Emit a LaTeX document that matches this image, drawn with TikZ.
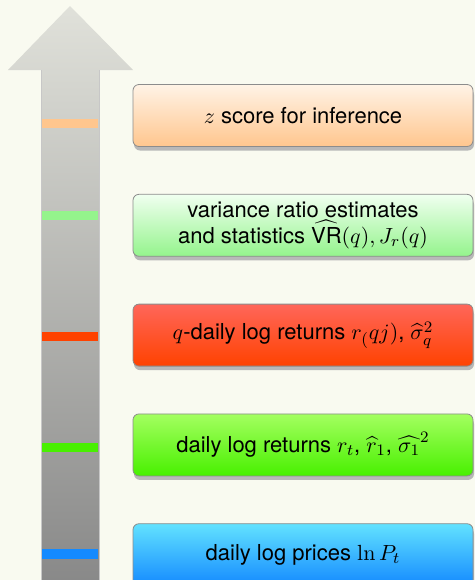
\documentclass[tikz,border=0pt]{standalone}
\usepackage{amsmath}
\usepackage[no-math]{fontspec}
\setmainfont{TeX Gyre Heros}
\usepackage{tikz}
\usetikzlibrary{positioning,shadows}
\definecolor{paper}{RGB}{249,250,240}
\definecolor{shafttop}{RGB}{224,225,218}
\definecolor{shaftbot}{RGB}{134,134,134}
\definecolor{zscoretop}{RGB}{255,243,230}
\definecolor{zscorebot}{RGB}{255,198,142}
\definecolor{ratiotop}{RGB}{240,255,240}
\definecolor{ratiobot}{RGB}{148,244,140}
\definecolor{qrettop}{RGB}{255,102,90}
\definecolor{qretbot}{RGB}{255,66,0}
\definecolor{rettop}{RGB}{164,255,96}
\definecolor{retbot}{RGB}{72,240,0}
\definecolor{pricetop}{RGB}{98,226,255}
\definecolor{pricebot}{RGB}{20,138,255}
\tikzset{
    stage/.style={
        draw=black!45,
        rounded corners=3pt,
        align=center,
        minimum height=31pt,
        minimum width=170pt,
        font=\fontsize{11pt}{13pt}\selectfont,
        drop shadow={opacity=1, fill=black!28, shadow xshift=0.5pt, shadow yshift=-2pt}
    },
    mark stripe/.style={fill=#1, draw=none},
    shaftedge/.style={draw=black!22, line width=0.4pt}
}
\begin{document}
\begin{tikzpicture}[node distance=23.5pt]
    \useasboundingbox[fill=paper] (0,0) rectangle (237.5pt,-290pt);
    % the big arrow
    \shade[top color=shafttop, bottom color=shaftbot]
        (20.5pt,-300pt) -- (20.5pt,-35pt) -- (4pt,-35pt) -- (35pt,-3pt)
        -- (66.5pt,-35pt) -- (49.5pt,-35pt) -- (49.5pt,-300pt) -- cycle;
    \draw[shaftedge] (20.5pt,-35pt) -- (20.5pt,-300pt);
    \draw[shaftedge] (49.5pt,-35pt) -- (49.5pt,-300pt);
    % marks on the arrow
    \fill[mark stripe=zscorebot] (21pt,-59.5pt) rectangle (49pt,-64pt);
    \fill[mark stripe=ratiobot] (21pt,-105.5pt) rectangle (49pt,-110pt);
    \fill[mark stripe=qretbot] (21pt,-166pt) rectangle (49pt,-170.5pt);
    \fill[mark stripe=retbot] (21pt,-221.5pt) rectangle (49pt,-226pt);
    \fill[mark stripe=pricebot] (21pt,-274.5pt) rectangle (49pt,-279.5pt);
    % the stages
    \node[stage, top color=zscoretop, bottom color=zscorebot] (zscore) at (151.5pt,-57.75pt)
        {$z$ score for inference};
    \node[stage, below=of zscore, top color=ratiotop, bottom color=ratiobot] (ratio)
        {variance ratio estimates\\ and statistics $\widehat{\text{VR}}(q), J_r(q)$};
    \node[stage, below=of ratio, top color=qrettop, bottom color=qretbot] (qreturns)
        {$q$-daily log returns $r_(qj)$, $\widehat{\sigma}_q^2$};
    \node[stage, below=of qreturns, top color=rettop, bottom color=retbot] (returns)
        {daily log returns $r_t$, $\widehat{r}_1$, $\widehat{\sigma_1}^2$};
    \node[stage, below=of returns, top color=pricetop, bottom color=pricebot] (prices)
        {daily log prices $\ln P_t$};
\end{tikzpicture}
\end{document}
